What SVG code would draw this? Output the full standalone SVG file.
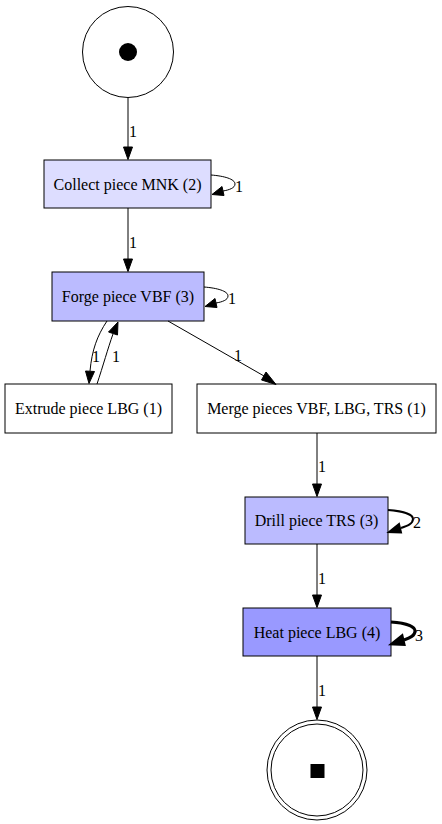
<svg xmlns="http://www.w3.org/2000/svg" width="442" height="824" viewBox="0 0 442 824">
<style>
text{font-family:"Liberation Serif","Times New Roman",serif;font-size:16px;fill:#000}
.n{text-anchor:middle}
.box{stroke:#000;stroke-width:1}
.e{fill:none;stroke:#000;stroke-width:1}
.e2{fill:none;stroke:#000;stroke-width:2}
.e3{fill:none;stroke:#000;stroke-width:3}
.ah{fill:#000;stroke:#000;stroke-width:1}
</style>
<rect width="442" height="824" fill="#fff"/>
<g id="start">
<circle cx="128" cy="52" r="45.5" fill="#fff" stroke="#000"/>
<circle cx="128" cy="52" r="9" fill="#000"/>
</g>
<g id="collect">
<rect class="box" x="44" y="160" width="167" height="48" fill="#ddddff"/>
<text class="n" x="127.5" y="190">Collect piece MNK (2)</text>
</g>
<g id="forge">
<rect class="box" x="52" y="272" width="152" height="49" fill="#bbbbff"/>
<text class="n" x="128" y="302">Forge piece VBF (3)</text>
</g>
<g id="extrude">
<rect class="box" x="5" y="384" width="167" height="49" fill="#fff"/>
<text class="n" x="88.5" y="414">Extrude piece LBG (1)</text>
</g>
<g id="merge">
<rect class="box" x="197" y="384" width="239" height="49" fill="#fff"/>
<text class="n" x="316.5" y="414">Merge pieces VBF, LBG, TRS (1)</text>
</g>
<g id="drill">
<rect class="box" x="245" y="497" width="143" height="47" fill="#bbbbff"/>
<text class="n" x="316.5" y="526">Drill piece TRS (3)</text>
</g>
<g id="heat">
<rect class="box" x="243" y="608" width="148" height="48" fill="#9999ff"/>
<text class="n" x="317" y="638">Heat piece LBG (4)</text>
</g>
<g id="end">
<circle cx="317" cy="770" r="50" fill="#fff" stroke="#000"/>
<circle cx="317" cy="770" r="46" fill="none" stroke="#000"/>
<rect x="310.5" y="764" width="14" height="14" fill="#000"/>
</g>
<g id="connectors">
<path class="e" d="M128,97.5 L128,147"/>
<polygon class="ah" points="123.5,147 128,159.5 132.5,147"/>
<text x="129" y="137">1</text>
<path class="e" d="M211,175 C224,176 235,179 235,184 C235,188 229,190 223,191"/>
<polygon class="ah" points="222,186.5 212,194.5 224,195.5"/>
<text x="235" y="192">1</text>
<path class="e" d="M128,208 L128,259"/>
<polygon class="ah" points="123.5,259 128,271.5 132.5,259"/>
<text x="129" y="248">1</text>
<path class="e" d="M204,287 C217,288 228,291 228,296 C228,300 222,302 216,303"/>
<polygon class="ah" points="215,298.5 205,306.5 217,307.5"/>
<text x="228" y="304">1</text>
<path class="e" d="M107,321 C97,336 92,350 90,371"/>
<polygon class="ah" points="85.5,371 89,383.5 94.5,371.5"/>
<text x="92" y="362">1</text>
<path class="e" d="M97,384 C103,366 108,348 113,334"/>
<polygon class="ah" points="108.5,332 118,322 117.5,335"/>
<text x="112" y="362">1</text>
<path class="e" d="M168,321 L264,376"/>
<polygon class="ah" points="261.5,380 276,384.5 266,372"/>
<text x="234" y="361">1</text>
<path class="e" d="M317,433 L317,484"/>
<polygon class="ah" points="312.5,484 317,496.5 321.5,484"/>
<text x="318" y="472">1</text>
<path class="e2" d="M388,510 C402,511 413,514 413,519 C413,524 407,526 401,528"/>
<polygon class="ah" style="stroke-width:2" points="399,524 389,532 401,532.5"/>
<text x="413" y="528">2</text>
<path class="e" d="M317,544 L317,595"/>
<polygon class="ah" points="312.5,595 317,607.5 321.5,595"/>
<text x="318" y="584">1</text>
<path class="e3" d="M391,622 C405,623 415,626 415,631 C415,636 410,638 404,640"/>
<polygon class="ah" style="stroke-width:3" points="402,636 392,644 404,644.5"/>
<text x="415" y="641">3</text>
<path class="e" d="M317,656 L317,707"/>
<polygon class="ah" points="312.5,707 317,719.5 321.5,707"/>
<text x="318" y="696">1</text>
</g>
</svg>
